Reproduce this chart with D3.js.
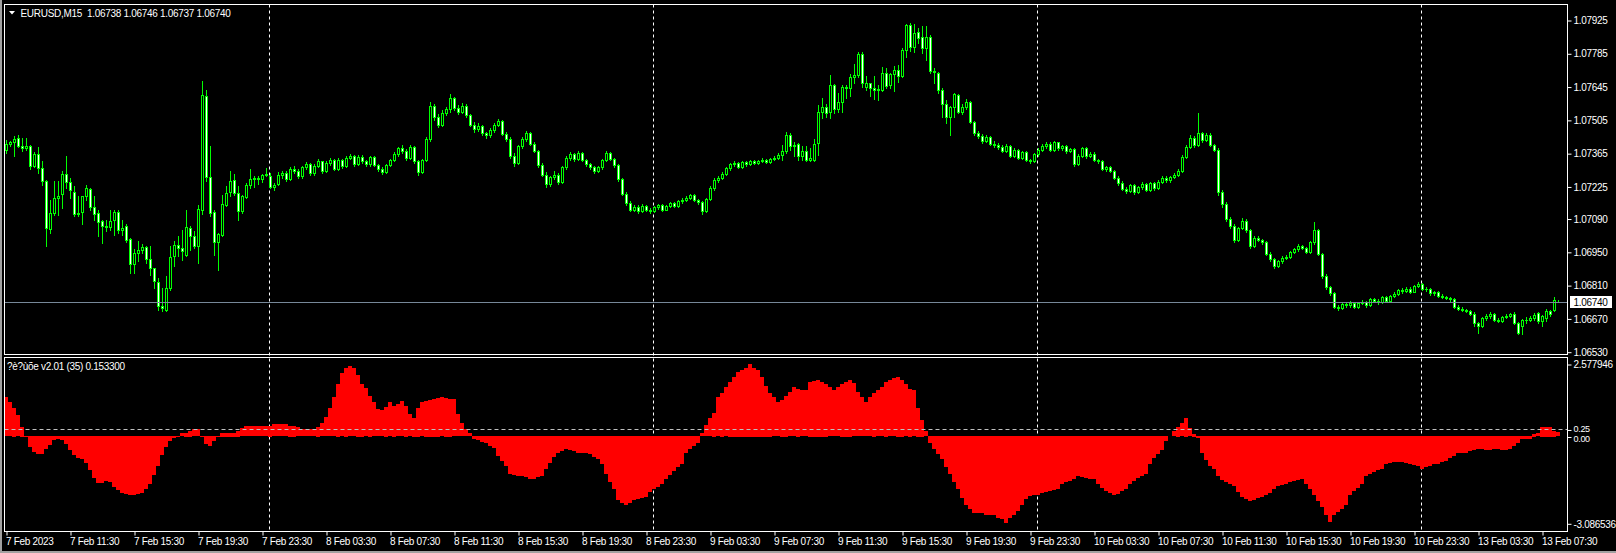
<!DOCTYPE html>
<html>
<head>
<meta charset="utf-8">
<script src="https://d3js.org/d3.v7.min.js"></script>
<style>
  html, body { margin: 0; padding: 0; background: #000; overflow: hidden; }
  svg text { font-family: "Liberation Sans", Arial, sans-serif; font-size: 10px; fill: #fff; letter-spacing: -0.3px; }
</style>
</head>
<body>
<div id="chart"></div>
<script>
// EURUSD M15 bars, prices kept as 1/100000 above 1.06000
opens = [
1380,1405,1410,1428,1397,1388,1396,1313,1362,1302,
1246,1046,1113,1176,1194,1278,1242,1203,1110,1116,
1183,1215,1138,1113,1081,1057,1054,1085,1119,1040,
1057,1004,900,945,959,970,920,882,823,721,
707,798,931,979,965,938,1050,1018,973,1124,
1606,1264,1117,990,1022,1148,1200,1253,1197,1120,
1180,1232,1256,1261,1256,1272,1270,1222,1236,1273,
1280,1255,1300,1290,1268,1305,1318,1280,1312,1330,
1290,1325,1335,1300,1338,1310,1345,1352,1318,1350,
1330,1318,1348,1315,1300,1285,1315,1335,1360,1385,
1375,1345,1390,1330,1285,1335,1425,1565,1515,1485,
1535,1550,1595,1555,1540,1565,1525,1485,1468,1480,
1448,1440,1462,1485,1500,1445,1425,1355,1325,1395,
1425,1450,1405,1375,1315,1275,1235,1265,1275,1245,
1305,1345,1360,1340,1365,1335,1318,1305,1290,1305,
1335,1365,1340,1315,1255,1195,1155,1128,1140,1122,
1142,1128,1122,1138,1145,1128,1142,1155,1142,1162,
1168,1178,1188,1168,1158,1122,1172,1218,1252,1262,
1278,1302,1318,1322,1308,1328,1318,1332,1322,1332,
1338,1328,1340,1345,1358,1372,1442,1393,1404,1351,
1372,1337,1337,1407,1540,1558,1536,1652,1550,1582,
1642,1637,1684,1693,1782,1645,1660,1637,1631,1631,
1701,1653,1697,1715,1690,1799,1904,1810,1873,1855,
1806,1852,1712,1701,1631,1571,1516,1558,1610,1536,
1560,1580,1495,1448,1438,1415,1432,1405,1398,1392,
1375,1395,1355,1378,1345,1370,1335,1330,1360,1380,
1395,1405,1380,1410,1385,1395,1372,1382,1320,1355,
1385,1352,1362,1335,1330,1300,1305,1290,1262,1240,
1215,1205,1230,1200,1222,1235,1210,1238,1218,1245,
1262,1250,1265,1275,1290,1350,1390,1430,1400,1450,
1420,1440,1400,1380,1200,1150,1090,1060,1000,1050,
1080,1040,975,1010,1000,990,940,920,890,910,
925,930,950,960,975,965,950,990,1040,940,
850,800,775,720,715,730,725,735,720,735,
740,725,750,742,738,760,745,765,772,790,
785,795,782,805,815,795,792,775,780,765,
762,755,750,720,710,705,700,690,650,640,
670,680,690,665,660,675,680,690,650,640,
662,665,672,693,660,672,700,707,738]

highs = [
1420,1418,1438,1442,1428,1428,1400,1370,1390,1330,
1250,1169,1246,1246,1288,1354,1260,1228,1183,1186,
1232,1218,1186,1127,1085,1085,1127,1127,1125,1085,
1065,1010,962,994,985,976,976,882,840,798,
850,973,994,1015,1043,1127,1057,1036,1148,1669,
1631,1396,1127,1029,1190,1228,1291,1278,1225,1190,
1239,1298,1267,1270,1278,1302,1281,1240,1285,1290,
1288,1308,1312,1298,1312,1326,1322,1318,1340,1334,
1332,1346,1340,1345,1342,1352,1362,1356,1358,1356,
1336,1355,1352,1320,1305,1320,1340,1368,1392,1398,
1382,1398,1396,1336,1342,1432,1580,1572,1528,1545,
1560,1612,1600,1568,1575,1570,1530,1495,1490,1485,
1455,1470,1492,1510,1505,1455,1432,1365,1400,1432,
1458,1455,1410,1380,1322,1285,1270,1290,1282,1312,
1352,1370,1366,1375,1370,1340,1325,1312,1312,1342,
1372,1370,1345,1320,1260,1200,1162,1148,1145,1150,
1148,1135,1144,1152,1150,1148,1160,1160,1168,1176,
1185,1195,1192,1172,1162,1178,1225,1260,1270,1285,
1308,1325,1330,1326,1334,1332,1338,1336,1338,1344,
1340,1346,1355,1365,1400,1456,1450,1410,1407,1396,
1396,1386,1424,1568,1596,1571,1694,1656,1617,1652,
1652,1698,1740,1792,1792,1690,1662,1690,1652,1729,
1722,1701,1732,1736,1806,1908,1911,1908,1890,1900,
1900,1862,1722,1708,1638,1589,1564,1617,1614,1570,
1592,1585,1500,1460,1445,1440,1438,1415,1406,1398,
1402,1400,1385,1382,1376,1374,1342,1365,1388,1405,
1412,1410,1416,1414,1400,1400,1388,1386,1362,1392,
1390,1368,1368,1342,1335,1312,1312,1296,1268,1246,
1222,1236,1234,1228,1242,1238,1244,1242,1250,1268,
1268,1270,1282,1298,1356,1398,1440,1436,1533,1455,
1450,1448,1405,1385,1210,1160,1098,1068,1055,1092,
1088,1045,1015,1018,1005,995,948,925,915,932,
935,955,968,982,980,970,995,1075,1045,945,
855,805,780,725,738,735,742,738,740,748,
745,755,756,750,765,765,770,780,795,798,
800,800,810,822,820,800,798,785,785,772,
765,760,756,725,716,710,705,695,655,676,
688,695,694,670,682,688,694,695,656,668,
675,680,692,698,685,708,705,760,746]

lows = [
1365,1395,1354,1390,1372,1379,1300,1305,1281,1232,
973,1029,1106,1106,1134,1218,1176,1102,1099,1068,
1169,1127,1085,1015,987,1036,1043,1022,1030,1022,
990,861,861,910,945,903,854,798,707,700,
700,790,889,931,917,931,959,966,903,1110,
1246,1099,938,875,1015,1141,1183,1190,1085,1113,
1176,1218,1222,1236,1242,1267,1218,1212,1230,1262,
1246,1250,1282,1260,1262,1298,1272,1274,1305,1282,
1284,1316,1294,1296,1304,1305,1340,1312,1314,1322,
1312,1312,1310,1292,1278,1280,1310,1330,1355,1365,
1338,1340,1325,1272,1280,1330,1415,1505,1475,1480,
1525,1540,1548,1530,1535,1518,1478,1455,1460,1440,
1430,1435,1455,1478,1440,1415,1345,1310,1320,1388,
1418,1398,1368,1308,1268,1222,1228,1258,1235,1240,
1298,1338,1332,1335,1330,1310,1298,1282,1284,1298,
1330,1335,1308,1248,1188,1148,1120,1122,1112,1118,
1122,1115,1118,1132,1122,1124,1138,1138,1138,1155,
1162,1172,1162,1150,1108,1118,1168,1212,1245,1255,
1272,1296,1312,1302,1304,1312,1314,1318,1318,1326,
1322,1325,1335,1340,1337,1365,1380,1351,1337,1337,
1330,1330,1330,1358,1512,1516,1512,1533,1540,1540,
1596,1606,1662,1687,1645,1631,1606,1592,1589,1628,
1637,1640,1628,1666,1684,1771,1796,1792,1827,1785,
1757,1701,1659,1620,1519,1491,1442,1519,1533,1530,
1552,1490,1440,1430,1408,1410,1398,1390,1382,1368,
1368,1350,1350,1340,1340,1330,1322,1326,1355,1372,
1388,1375,1376,1380,1380,1366,1368,1312,1315,1350,
1346,1348,1330,1322,1295,1292,1284,1256,1232,1208,
1198,1200,1195,1196,1216,1205,1206,1212,1214,1240,
1245,1245,1260,1270,1285,1345,1385,1392,1395,1412,
1415,1395,1372,1190,1140,1080,1050,990,995,1045,
1035,965,970,995,982,935,910,882,885,905,
918,925,945,955,960,945,945,985,935,842,
795,770,712,705,710,718,720,715,715,730,
720,722,738,732,735,740,742,760,768,778,
780,778,780,800,790,785,770,770,760,755,
750,745,715,705,700,695,685,640,610,635,
665,672,660,655,655,670,675,645,605,605,
650,660,665,652,640,660,680,700,737]

closes = [
1405,1410,1424,1397,1388,1395,1313,1362,1302,1246,
1050,1113,1176,1183,1278,1242,1210,1110,1113,1186,
1218,1138,1109,1074,1057,1054,1081,1119,1040,1050,
1001,900,945,959,970,920,882,826,721,712,
797,928,979,965,955,1054,1018,973,1130,1610,
1264,1113,990,1026,1152,1197,1246,1197,1120,1183,
1232,1256,1261,1258,1272,1278,1222,1232,1273,1280,
1255,1300,1290,1268,1305,1318,1280,1312,1330,1290,
1325,1335,1300,1338,1310,1345,1352,1318,1350,1330,
1318,1348,1315,1300,1285,1315,1335,1360,1385,1375,
1345,1390,1330,1285,1335,1425,1565,1515,1485,1535,
1550,1595,1555,1540,1565,1525,1485,1468,1480,1448,
1440,1462,1485,1500,1445,1425,1355,1325,1395,1425,
1450,1405,1375,1315,1275,1235,1265,1275,1245,1305,
1345,1360,1340,1365,1335,1318,1305,1290,1305,1335,
1365,1340,1315,1255,1195,1155,1128,1140,1122,1142,
1128,1122,1138,1145,1128,1142,1155,1142,1162,1168,
1178,1188,1168,1158,1122,1172,1218,1252,1262,1278,
1302,1318,1322,1308,1328,1318,1332,1322,1332,1338,
1328,1340,1345,1358,1372,1442,1393,1400,1351,1372,
1337,1345,1404,1540,1558,1533,1652,1550,1582,1642,
1637,1684,1693,1782,1659,1660,1637,1631,1635,1701,
1648,1697,1715,1690,1799,1904,1810,1869,1851,1806,
1852,1712,1705,1631,1571,1516,1558,1613,1536,1560,
1580,1495,1448,1438,1415,1432,1405,1398,1392,1375,
1395,1355,1378,1345,1370,1335,1330,1360,1380,1395,
1405,1380,1410,1385,1395,1372,1382,1320,1355,1385,
1352,1362,1335,1330,1300,1305,1290,1262,1240,1215,
1205,1230,1200,1222,1235,1210,1238,1218,1245,1262,
1250,1265,1275,1290,1350,1390,1430,1400,1450,1420,
1440,1400,1380,1200,1150,1090,1060,1000,1050,1080,
1040,975,1010,1000,990,940,920,890,910,925,
930,950,960,975,965,950,990,1040,940,850,
800,775,720,715,730,725,735,720,735,740,
725,750,742,738,760,745,765,772,790,785,
795,782,805,815,795,792,775,780,765,762,
755,750,720,710,705,700,690,650,640,670,
680,690,665,660,675,680,690,650,609,662,
665,672,685,658,680,700,690,749,740]

// oscillator histogram (35)
osc = [
1.39,1.21,1.03,0.75,0.34,-0.04,-0.39,-0.57,-0.64,-0.64,
-0.46,-0.31,-0.15,-0.12,-0.15,-0.27,-0.49,-0.69,-0.77,-0.82,
-0.96,-1.22,-1.49,-1.67,-1.67,-1.61,-1.65,-1.81,-1.93,-2.02,
-2.08,-2.10,-2.10,-2.08,-2.02,-1.88,-1.69,-1.40,-1.08,-0.69,
-0.39,-0.18,-0.07,0.02,0.11,0.14,0.20,0.26,0.26,-0.04,
-0.27,-0.36,-0.18,0.02,0.14,0.14,0.14,0.14,0.20,0.30,
0.36,0.36,0.36,0.36,0.36,0.36,0.38,0.43,0.43,0.43,
0.43,0.39,0.39,0.32,0.25,0.25,0.25,0.25,0.34,0.47,
0.68,1.00,1.39,1.88,2.25,2.45,2.50,2.42,2.20,1.88,
1.72,1.45,1.21,0.97,0.94,1.05,1.21,1.09,1.15,1.25,
1.10,0.80,0.66,1.03,1.21,1.28,1.30,1.35,1.38,1.39,
1.38,1.35,1.32,0.80,0.48,0.25,0.11,-0.10,-0.15,-0.22,
-0.26,-0.35,-0.44,-0.70,-0.90,-1.06,-1.36,-1.40,-1.42,-1.43,
-1.45,-1.54,-1.52,-1.45,-1.43,-1.17,-0.95,-0.75,-0.62,-0.55,
-0.48,-0.50,-0.55,-0.60,-0.62,-0.62,-0.65,-0.75,-0.81,-1.00,
-1.36,-1.65,-1.90,-2.27,-2.40,-2.45,-2.40,-2.27,-2.25,-2.20,
-2.16,-2.00,-1.90,-1.80,-1.72,-1.54,-1.40,-1.25,-1.10,-0.99,
-0.62,-0.48,-0.35,-0.26,0.11,0.40,0.65,0.84,1.39,1.55,
1.76,1.95,2.12,2.30,2.38,2.45,2.578,2.45,2.38,2.12,
1.80,1.55,1.39,1.21,1.30,1.45,1.58,1.76,1.70,1.65,
1.65,1.94,1.98,2.01,1.95,1.87,1.75,1.65,1.75,1.87,
1.95,2.01,1.90,1.58,1.40,1.21,1.39,1.55,1.65,1.76,
1.94,2.00,2.08,2.12,2.01,1.85,1.70,1.65,1.03,0.60,
0.18,-0.26,-0.45,-0.65,-0.81,-1.10,-1.36,-1.65,-1.90,-2.20,
-2.45,-2.60,-2.75,-2.75,-2.75,-2.80,-2.82,-2.82,-2.90,-2.95,
-3.087,-2.90,-2.82,-2.65,-2.45,-2.23,-2.15,-2.10,-2.09,-2.01,
-1.98,-1.95,-1.92,-1.90,-1.72,-1.65,-1.60,-1.54,-1.43,-1.45,
-1.50,-1.54,-1.54,-1.72,-1.85,-1.95,-2.01,-2.09,-2.05,-1.95,
-1.90,-1.72,-1.60,-1.50,-1.42,-1.36,-0.99,-0.80,-0.65,-0.51,
-0.18,0.00,0.18,0.35,0.48,0.66,0.29,0.10,-0.07,-0.62,
-0.85,-1.05,-1.17,-1.43,-1.55,-1.65,-1.72,-1.79,-2.00,-2.16,
-2.25,-2.31,-2.28,-2.20,-2.16,-2.10,-2.01,-1.90,-1.79,-1.75,
-1.72,-1.65,-1.60,-1.56,-1.54,-1.72,-1.90,-2.09,-2.30,-2.53,
-2.80,-3.05,-2.82,-2.70,-2.60,-2.45,-2.09,-1.95,-1.85,-1.72,
-1.43,-1.35,-1.28,-1.22,-1.17,-0.99,-0.95,-0.94,-0.92,-0.92,
-0.95,-0.99,-1.02,-1.05,-1.17,-1.12,-1.05,-1.00,-0.99,-0.92,
-0.88,-0.80,-0.72,-0.62,-0.62,-0.62,-0.55,-0.50,-0.46,-0.48,
-0.50,-0.50,-0.48,-0.46,-0.50,-0.50,-0.48,-0.37,-0.25,-0.10,
-0.10,-0.10,0.10,0.12,0.35,0.35,0.35,0.20,0.15]

priceTicks = [1.07925,1.07785,1.07645,1.07505,1.07365,1.07225,1.07090,1.06950,1.06810,1.06670,1.06530]
oscTicks = [2.577946,0.25,0,-3.086536]
oscTickLabels = ["2.577946","0.25","0.00","-3.086536"]
timeLabels = ["7 Feb 2023","7 Feb 11:30","7 Feb 15:30","7 Feb 19:30","7 Feb 23:30",
  "8 Feb 03:30","8 Feb 07:30","8 Feb 11:30","8 Feb 15:30","8 Feb 19:30","8 Feb 23:30",
  "9 Feb 03:30","9 Feb 07:30","9 Feb 11:30","9 Feb 15:30","9 Feb 19:30","9 Feb 23:30",
  "10 Feb 03:30","10 Feb 07:30","10 Feb 11:30","10 Feb 15:30","10 Feb 19:30","10 Feb 23:30",
  "13 Feb 03:30","13 Feb 07:30"]
separators = [66,162,258,354]   // day starts
oscLevel = 0.25
lastPrice = 1.06740
title = "EURUSD,M15  1.06738 1.06746 1.06737 1.06740"
oscTitle = "?è?ùõe v2.01 (35) 0.153300"

width = 1616
height = 553
left = 4.5, right = 1567.5
mainTop = 4.5, mainBottom = 354.5
oscTop = 357.5, oscBottom = 531.5
green = "#00ff00"

svg = d3.select('#chart')
  .append('svg')
  .attr('width', width)
  .attr('height', height)
  .style('display', 'block')

svg.append('rect').attr('width', width).attr('height', height).attr('fill', '#000')
// window edges
svg.append('rect').attr('x', 0).attr('y', 0).attr('width', 2).attr('height', height).attr('fill', '#a0a0a0')
svg.append('rect').attr('x', 0).attr('y', 551).attr('width', width).attr('height', 2).attr('fill', '#a0a0a0')

n = closes.length
x = d3.scaleLinear().domain([0, n - 1]).range([6, 6 + 4 * (n - 1)])
y = d3.scaleLinear().domain([1.06530, 1.07925]).range([351.7, 20])
yo = d3.scaleLinear().domain([-3.086536, 2.577946]).range([523.3, 364])
px = v => 1.06 + v / 100000

defs = svg.append('defs')
defs.append('clipPath').attr('id', 'clipMain').append('rect')
  .attr('x', 5).attr('y', 5).attr('width', right - 5).attr('height', mainBottom - 5)
defs.append('clipPath').attr('id', 'clipOsc').append('rect')
  .attr('x', 5).attr('y', oscTop + 0.5).attr('width', right - 5).attr('height', oscBottom - oscTop - 1)

/// period separators (both panels)
svg.append('g').selectAll('line')
  .data(separators)
  .enter().append('line')
  .attr('x1', d => x(d) - 0.5).attr('x2', d => x(d) - 0.5)
  .attr('y1', mainTop).attr('y2', oscBottom)
  .attr('stroke', '#fff').attr('stroke-dasharray', '3,3')

/// candles
main = svg.append('g').attr('clip-path', 'url(#clipMain)')
bars = d3.range(n)

main.selectAll('.wick')
  .data(bars)
  .enter().append('rect')
  .attr('class', 'wick')
  .attr('x', i => x(i))
  .attr('width', 1)
  .attr('y', i => Math.round(y(px(highs[i]))))
  .attr('height', i => Math.max(1, Math.round(y(px(lows[i]))) - Math.round(y(px(highs[i]))) + 1))
  .attr('fill', green)

bodyTop = i => Math.round(y(px(Math.max(opens[i], closes[i]))))
bodyBot = i => Math.round(y(px(Math.min(opens[i], closes[i]))))

main.selectAll('.body')
  .data(bars)
  .enter().append('rect')
  .attr('class', 'body')
  .attr('x', i => x(i) - 1)
  .attr('width', 3)
  .attr('y', i => bodyTop(i))
  .attr('height', i => bodyBot(i) - bodyTop(i) + 1)
  .attr('fill', green)

main.selectAll('.inner')
  .data(bars.filter(i => bodyBot(i) - bodyTop(i) >= 2))
  .enter().append('rect')
  .attr('class', 'inner')
  .attr('x', i => x(i))
  .attr('width', 1)
  .attr('y', i => bodyTop(i) + 1)
  .attr('height', i => bodyBot(i) - bodyTop(i) - 1)
  .attr('fill', i => closes[i] >= opens[i] ? '#000' : '#fff')

// bid line
lastY = Math.round(y(lastPrice)) + 0.5
main.append('line')
  .attr('x1', left).attr('x2', right)
  .attr('y1', lastY).attr('y2', lastY)
  .attr('stroke', '#778899')

/// oscillator
oscG = svg.append('g').attr('clip-path', 'url(#clipOsc)')
oscG.selectAll('rect')
  .data(osc)
  .enter().append('rect')
  .attr('x', (d, i) => x(i) - 2)
  .attr('width', 4)
  .attr('y', d => Math.round(Math.min(yo(d), yo(0))))
  .attr('height', d => Math.round(Math.abs(yo(d) - yo(0))))
  .attr('fill', '#ff0000')

levelY = Math.round(yo(oscLevel)) + 0.5
oscG.append('line')
  .attr('x1', left).attr('x2', right)
  .attr('y1', levelY).attr('y2', levelY)
  .attr('stroke', '#c0c0c0').attr('stroke-dasharray', '4,3')

/// frames
frame = svg.append('g').attr('fill', 'none').attr('stroke', '#fff')
frame.append('rect').attr('x', left).attr('y', mainTop).attr('width', right - left).attr('height', mainBottom - mainTop)
frame.append('rect').attr('x', left).attr('y', oscTop).attr('width', right - left).attr('height', oscBottom - oscTop)

/// axes
function styleAxis(g) {
  g.select('.domain').remove()
  g.selectAll('line').attr('stroke', '#fff')
  g.selectAll('text').attr('fill', '#fff').attr('font-size', null).attr('font-family', null)
  g.attr('font-size', null).attr('font-family', null)
}

svg.append('g')
  .attr('transform', 'translate(' + right + ',0.5)')
  .call(d3.axisRight(y).tickValues(priceTicks).tickFormat(d3.format('.5f')).tickSize(4).tickPadding(2))
  .call(styleAxis)

// 0.25 and 0.00 sit close together: nudge them apart a little
svg.append('g')
  .attr('transform', 'translate(' + right + ',0.5)')
  .call(d3.axisRight(yo).tickValues(oscTicks).tickFormat((d, i) => oscTickLabels[i]).tickSize(4).tickPadding(2))
  .call(styleAxis)
  .call(g => g.selectAll('text')
    .style('font-size', (d, i) => (i == 1 || i == 2) ? '9px' : null)
    .attr('y', (d, i) => i == 1 ? -1.5 : i == 2 ? 1.5 : 0))

svg.append('g')
  .attr('transform', 'translate(0.5,' + oscBottom + ')')
  .call(d3.axisBottom(x).tickValues(timeLabels.map((d, i) => i * 16)).tickFormat((d, i) => timeLabels[i]).tickSize(4).tickPadding(2))
  .call(styleAxis)
  .call(g => g.selectAll('text').attr('text-anchor', 'start').attr('x', -1))

// bid label
svg.append('rect')
  .attr('x', 1570).attr('y', lastY - 6.5)
  .attr('width', 42).attr('height', 12)
  .attr('fill', '#fff')
svg.append('text')
  .attr('x', 1573.5).attr('y', lastY + 3.5)
  .style('fill', '#000')
  .text(d3.format('.5f')(lastPrice))

/// titles
svg.append('path').attr('d', 'M9,11 L15,11 L12,14.5 Z').attr('fill', '#fff')
svg.append('text').attr('x', 20.5).attr('y', 16.5).text(title).style('white-space', 'pre')
svg.append('text').attr('x', 7).attr('y', 369.5).text(oscTitle)
</script>
</body>
</html>
